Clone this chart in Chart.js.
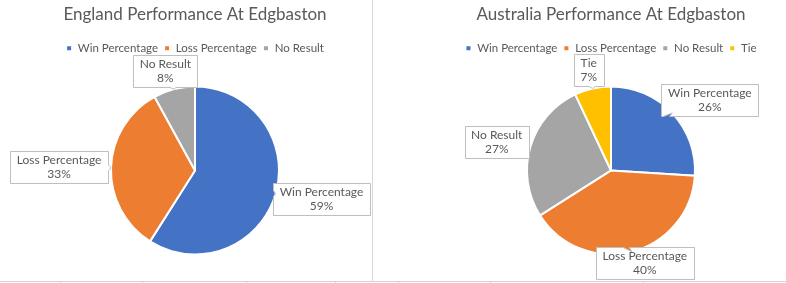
<!DOCTYPE html>
<html>
<head>
<meta charset="utf-8">
<script src="https://cdn.jsdelivr.net/npm/chart.js@4/dist/chart.umd.min.js"></script>
<style>
  body { margin: 0; background: #fff; }
  #wrap { position: relative; width: 786px; height: 283px; overflow: hidden; }
  .box { position: absolute; top: 0; height: 283px; }
  #leftBox { left: 0; width: 372px; }
  #rightBox { left: 373px; width: 413px; }
  .vline { position: absolute; top: 0; left: 372px; width: 1px; height: 281px; background: #d9d9d9; }
  .hline { position: absolute; left: 0; top: 281px; width: 786px; height: 1px; background: #d4d4d4; }
  .tick { position: absolute; top: 281px; width: 1px; height: 2px; background: #d4d4d4; }
</style>
</head>
<body>
<div id="wrap">
  <div class="box" id="leftBox"><canvas id="englandChart"></canvas></div>
  <div class="vline"></div>
  <div class="box" id="rightBox"><canvas id="australiaChart"></canvas></div>
  <div class="hline"></div>
</div>
<script>
var englandLabels = ['Win Percentage', 'Loss Percentage', 'No Result']
var englandValues = [59, 33, 8]
var australiaLabels = ['Win Percentage', 'Loss Percentage', 'No Result', 'Tie']
var australiaValues = [26, 40, 27, 7]
var pieColors = ['#4472c4', '#ed7d31', '#a5a5a5', '#ffc000']
var textColor = '#595959'

// spreadsheet cell ticks under the charts
;[60, 142, 246, 335, 398, 490, 643].forEach(x => {
    let d = document.createElement('div')
    d.className = 'tick'
    d.style.left = x + 'px'
    document.getElementById('wrap').appendChild(d)
})

// excel style callout labels
var calloutPlugin = {
    id: 'callouts',
    afterDatasetsDraw(chart) {
        const ctx = chart.ctx
        const meta = chart.getDatasetMeta(0)
        const values = chart.data.datasets[0].data
        ctx.save()
        ctx.font = '12px Lato'
        ctx.textAlign = 'center'
        ctx.textBaseline = 'middle'
        meta.data.forEach((arc, i) => {
            const p = arc.getProps(['x', 'y', 'startAngle', 'endAngle', 'outerRadius'], true)
            const mid = (p.startAngle + p.endAngle) / 2
            const dx = Math.cos(mid), dy = Math.sin(mid)
            const ax = p.x + dx * p.outerRadius, ay = p.y + dy * p.outerRadius
            const lines = [chart.data.labels[i], values[i] + '%']
            const w = Math.round(Math.max(...lines.map(t => ctx.measureText(t).width)) + 13)
            const h = 32
            let cx = ax + dx * (w / 2 + 3)
            let cy = ay + dy * (h / 2 + 3)
            cx = Math.min(Math.max(cx, w / 2 + 2), chart.width - w / 2 - 2)
            cy = Math.min(Math.max(cy, h / 2 + 2), chart.height - h / 2 - 4)
            const x0 = Math.round(cx - w / 2) + 0.5, x1 = x0 + w
            const y0 = Math.round(cy - h / 2) + 0.5, y1 = y0 + h

            // which side faces the anchor
            let side = null, bx = 0, by = 0
            const vx = ax - cx, vy = ay - cy
            if (Math.abs(vx) * h > Math.abs(vy) * w) {
                side = vx > 0 ? 'right' : 'left'
                by = cy + vy * (w / 2) / Math.abs(vx)
                by = Math.min(Math.max(by, y0 + 5), y1 - 5)
                bx = side === 'right' ? x1 : x0
            } else {
                side = vy > 0 ? 'bottom' : 'top'
                bx = cx + vx * (h / 2) / Math.abs(vy)
                bx = Math.min(Math.max(bx, x0 + 5), x1 - 5)
                by = side === 'bottom' ? y1 : y0
            }
            const dist = Math.hypot(ax - bx, ay - by)
            const notch = dist > 1.5 && dist < 12
            const tx = ax, ty = ay

            ctx.beginPath()
            ctx.moveTo(x0, y0)
            if (notch && side === 'top') { ctx.lineTo(bx - 3, y0); ctx.lineTo(tx, ty); ctx.lineTo(bx + 3, y0) }
            ctx.lineTo(x1, y0)
            if (notch && side === 'right') { ctx.lineTo(x1, by - 3); ctx.lineTo(tx, ty); ctx.lineTo(x1, by + 3) }
            ctx.lineTo(x1, y1)
            if (notch && side === 'bottom') { ctx.lineTo(bx + 3, y1); ctx.lineTo(tx, ty); ctx.lineTo(bx - 3, y1) }
            ctx.lineTo(x0, y1)
            if (notch && side === 'left') { ctx.lineTo(x0, by + 3); ctx.lineTo(tx, ty); ctx.lineTo(x0, by - 3) }
            ctx.closePath()
            ctx.fillStyle = '#fff'
            ctx.fill()
            ctx.strokeStyle = '#bfbfbf'
            ctx.lineWidth = 1
            ctx.stroke()

            ctx.fillStyle = textColor
            ctx.fillText(lines[0], cx, y0 + 9)
            ctx.fillText(lines[1], cx, y0 + 23)
        })
        ctx.restore()
    }
}

function makePie(canvas, title, labels, values, padLeft) {
    return new Chart(document.querySelector(canvas), {
        type: 'pie',
        data: {
            labels: labels,
            datasets: [{
                data: values,
                backgroundColor: pieColors.slice(0, values.length),
                borderColor: '#ffffff',
                borderWidth: 2
            }]
        },
        options: {
            responsive: true,
            maintainAspectRatio: false,
            animation: false,
            radius: 84,
            layout: {
                padding: { left: padLeft, right: 0, top: 0, bottom: 6 }
            },
            plugins: {
                title: {
                    display: true,
                    text: title,
                    color: textColor,
                    font: { family: 'Lato', size: 17, weight: 'normal' },
                    padding: { top: 4, bottom: 12 }
                },
                legend: {
                    position: 'top',
                    labels: {
                        color: textColor,
                        font: { family: 'Lato', size: 11.5 },
                        boxWidth: 6,
                        boxHeight: 6,
                        padding: 6
                    }
                },
                tooltip: { enabled: false }
            }
        },
        plugins: [calloutPlugin]
    })
}

makePie('#englandChart', 'England Performance At Edgbaston', englandLabels, englandValues, 18)
makePie('#australiaChart', 'Australia Performance At Edgbaston', australiaLabels, australiaValues, 63)
</script>
</body>
</html>
